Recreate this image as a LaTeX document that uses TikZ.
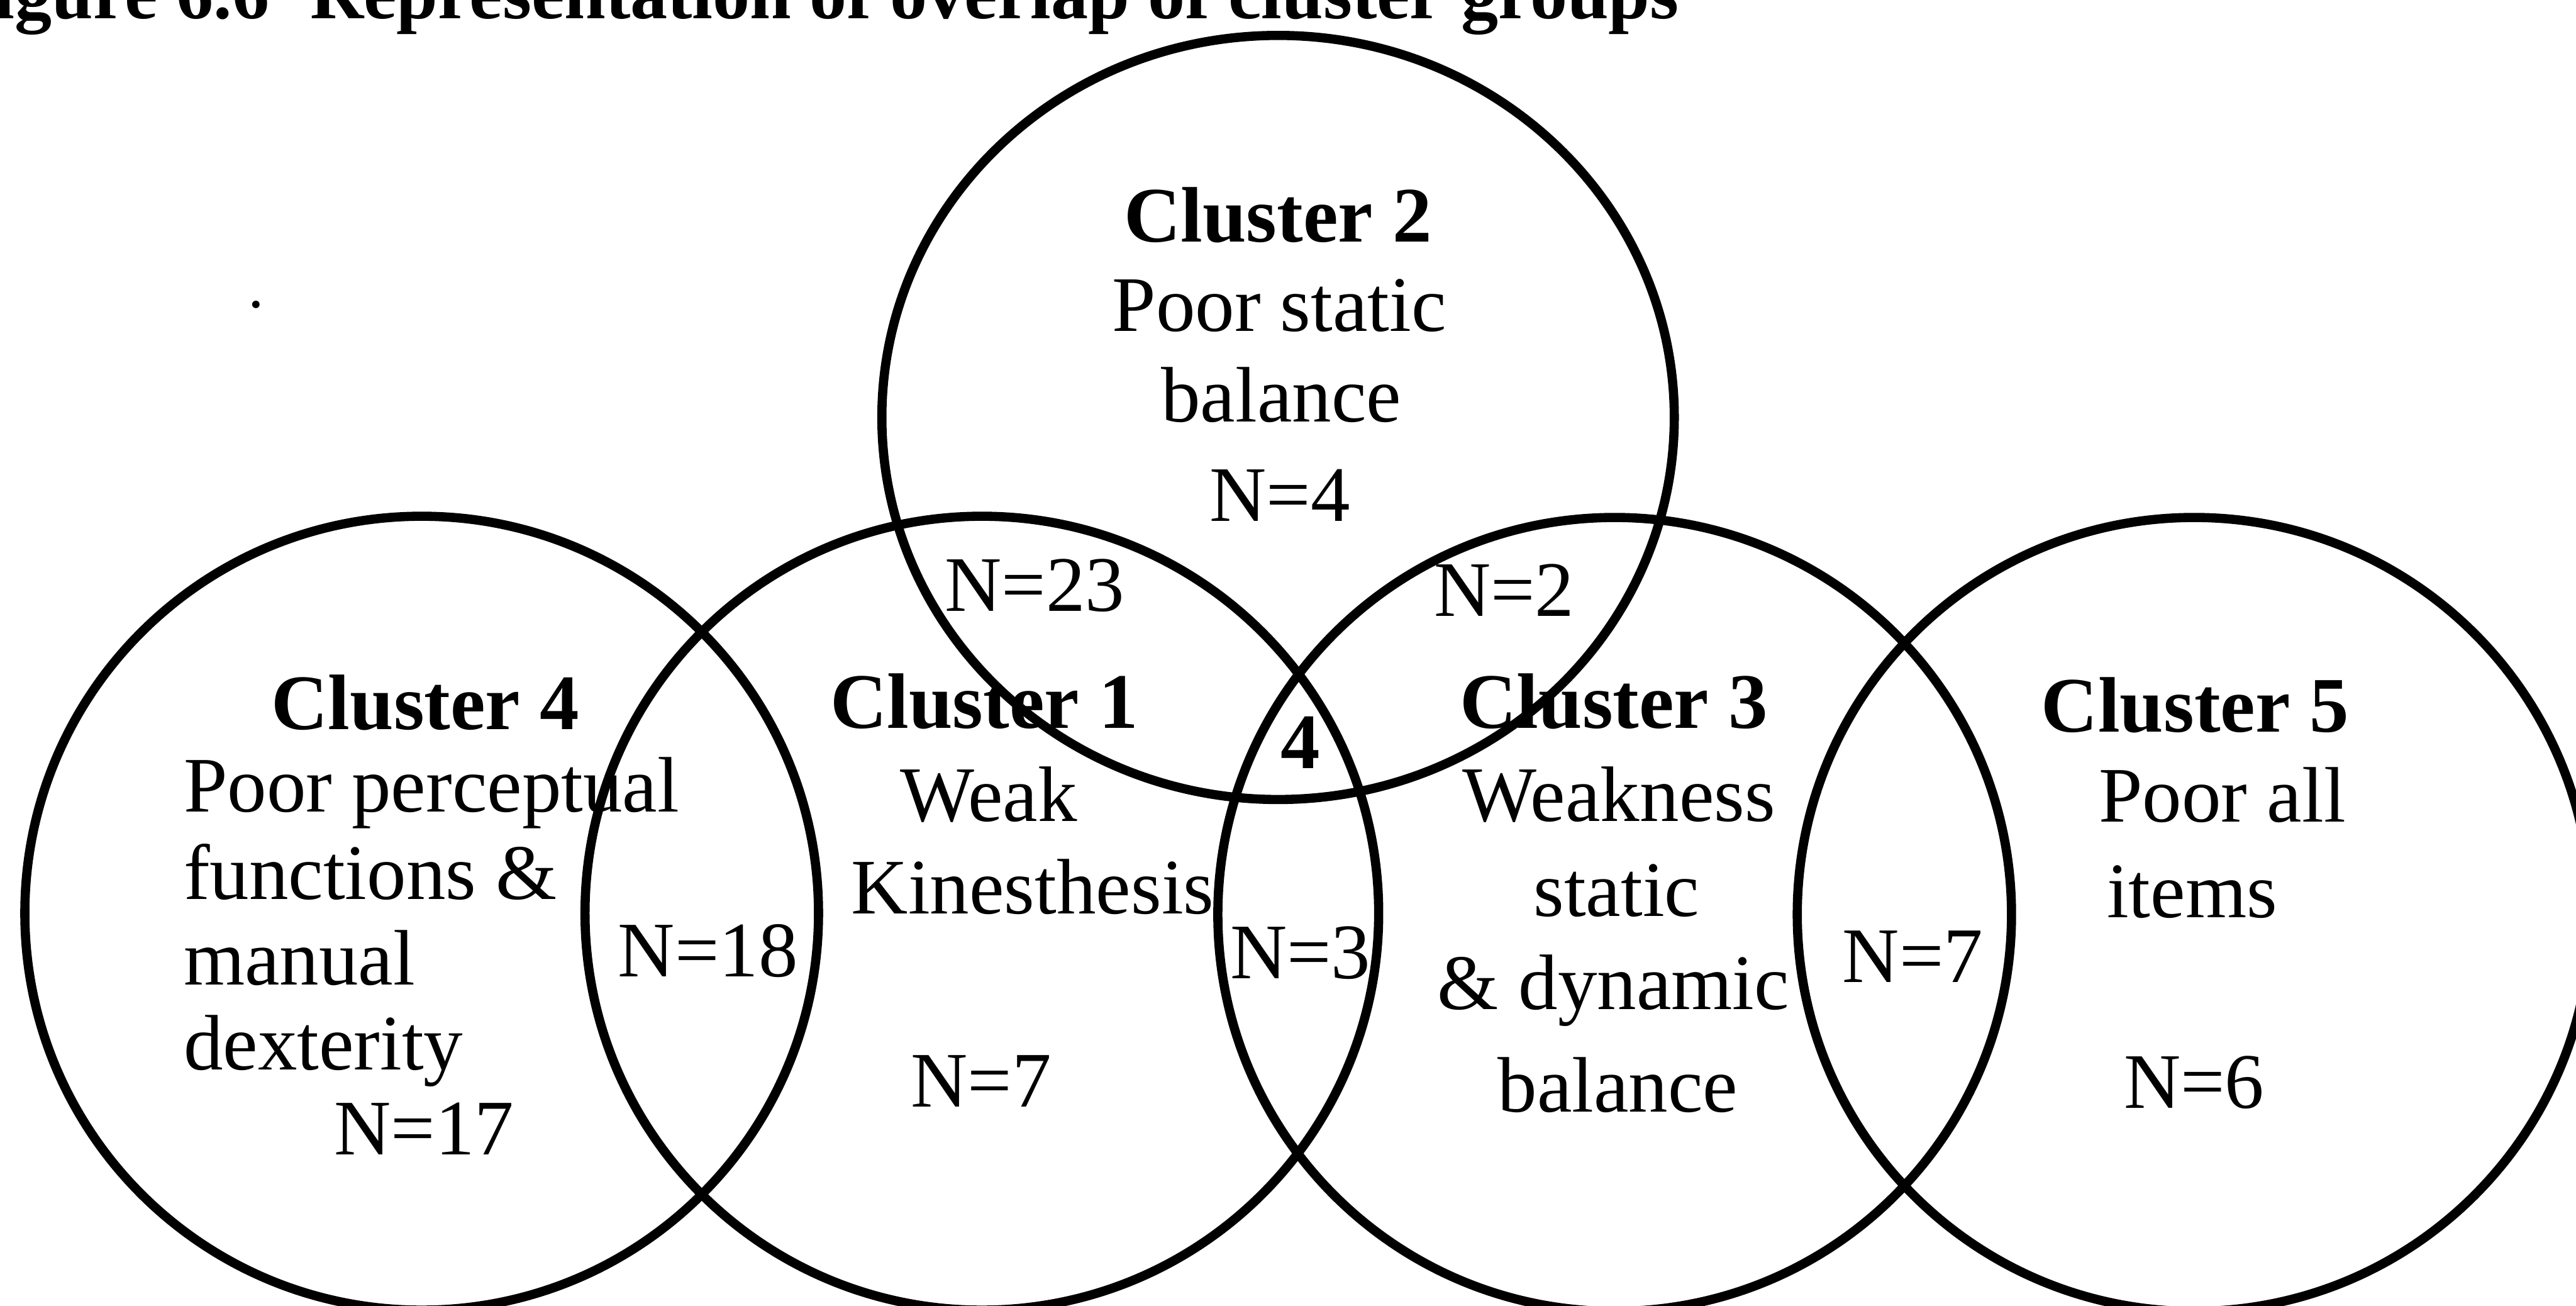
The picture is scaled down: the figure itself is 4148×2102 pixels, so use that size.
\documentclass[tikz,border=0pt]{standalone}
\usepackage{fontspec}
\setmainfont{Liberation Serif}
\begin{document}
\begin{tikzpicture}[x=0.01cm, y=-0.01cm,
  ring/.style={line width=4.2pt, draw=black},
  txt/.style={inner sep=0pt, font=\fontsize{36}{43}\selectfont},
  head/.style={inner sep=0pt, font=\fontsize{36}{43}\selectfont\bfseries},
]
\useasboundingbox (0,0) rectangle (4148,2102);
\clip (0,0) rectangle (4148,2102);
\fill[white] (0,0) rectangle (4148,2102);

% caption line along the top edge
\node[inner sep=0pt, anchor=base west, font=\fontsize{34}{40}\selectfont\bfseries]
  (title) at (-83,30) {Figure 6.6\hspace{0.55em}Representation of overlap of cluster groups};

% cluster centres
\coordinate (o4) at (679,1470);
\coordinate (o1) at (1581,1470);
\coordinate (o3) at (2600,1472);
\coordinate (o5) at (3533,1472);
\coordinate (o2) at (2058,672);

% the five clusters
\draw[ring] (o4) circle[radius=639];
\draw[ring] (o1) circle[radius=639];
\draw[ring] (o3) circle[radius=639];
\draw[ring] (o5) circle[radius=639];
\draw[ring] (o2) ellipse[x radius=638, y radius=615];

% small dot left of the clusters
\fill (412,490) circle[radius=6];

% Cluster 4
\node[head, anchor=base] (c4h) at (685,1174) {Cluster 4};
\node[txt, anchor=base west] (c4a) at (295,1307) {Poor perceptual};
\node[txt, anchor=base west] (c4b) at (295,1448) {functions \&};
\node[txt, anchor=base west] (c4c) at (295,1585) {manual};
\node[txt, anchor=base west] (c4d) at (295,1722) {dexterity};
\node[txt, anchor=base] (c4n) at (683,1859) {N=17};

% Cluster 1
\node[head, anchor=base] (c1h) at (1585,1172) {Cluster 1};
\node[txt, anchor=base] (c1a) at (1592,1322) {Weak};
\node[txt, anchor=base] (c1b) at (1663,1471) {Kinesthesis};
\node[txt, anchor=base] (c1n) at (1580,1782) {N=7};

% Cluster 2
\node[head, anchor=base] (c2h) at (2058,389) {Cluster 2};
\node[txt, anchor=base] (c2a) at (2060,533) {Poor static};
\node[txt, anchor=base] (c2b) at (2063,679) {balance};
\node[txt, anchor=base] (c2n) at (2061,839) {N=4};

% Cluster 3
\node[head, anchor=base] (c3h) at (2599,1172) {Cluster 3};
\node[txt, anchor=base] (c3a) at (2607,1322) {Weakness};
\node[txt, anchor=base] (c3b) at (2603,1475) {static};
\node[txt, anchor=base] (c3c) at (2598,1625) {\& dynamic};
\node[txt, anchor=base] (c3d) at (2605,1790) {balance};

% Cluster 5
\node[head, anchor=base] (c5h) at (3535,1178) {Cluster 5};
\node[txt, anchor=base west] (c5a) at (3379,1323) {Poor all};
\node[txt, anchor=base west] (c5b) at (3392,1477) {items};
\node[txt, anchor=base] (c5n) at (3533,1784) {N=6};

% overlap counts
\node[txt, anchor=base] (n12) at (1666,984) {N=23};
\node[txt, anchor=base] (n23) at (2422,992) {N=2};
\node[head, anchor=base] (n123) at (2094,1237) {4};
\node[txt, anchor=base] (n14) at (1140,1572) {N=18};
\node[txt, anchor=base] (n13) at (2094,1575) {N=3};
\node[txt, anchor=base] (n35) at (3080,1581) {N=7};
\end{tikzpicture}
\end{document}
